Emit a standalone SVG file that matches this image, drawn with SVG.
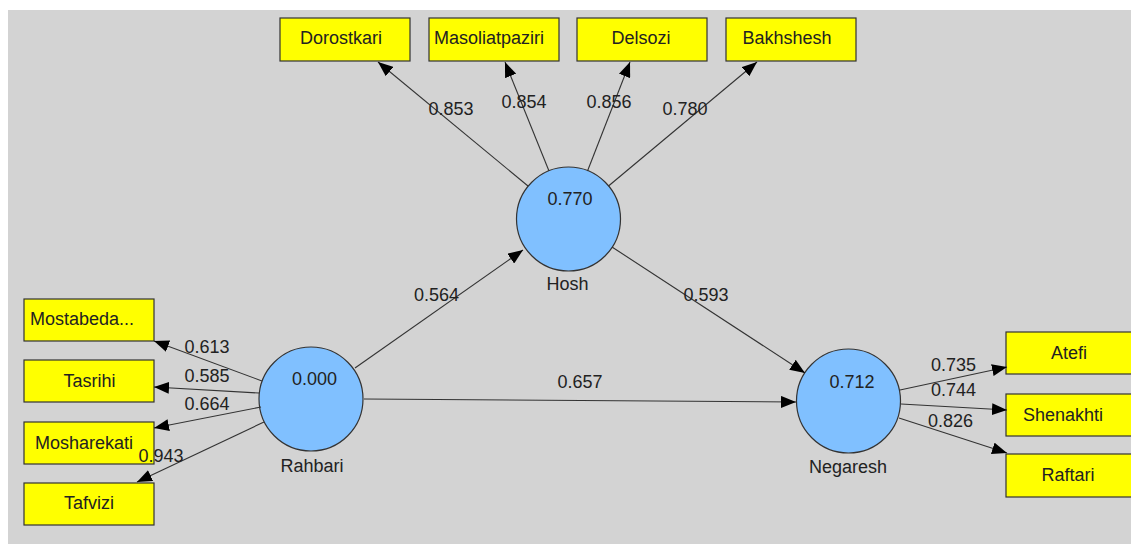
<svg xmlns="http://www.w3.org/2000/svg" width="1131" height="544" viewBox="0 0 1131 544">
<style>
.box{fill:#ffff00;stroke:#333;stroke-width:1.2}
.lv{fill:#80c0ff;stroke:#333;stroke-width:1.2}
text{font-family:"Liberation Sans",Arial,sans-serif;font-size:18px;fill:#222;text-anchor:middle}
.e{stroke:#333;stroke-width:1.1;fill:none;marker-end:url(#ah)}
</style>
<defs>
<marker id="ah" markerWidth="16" markerHeight="12" refX="15" refY="6" orient="auto" markerUnits="userSpaceOnUse">
<path d="M0,0 L15,6 L0,12 Z" fill="#000"/>
</marker>
</defs>
<rect x="0" y="0" width="1131" height="544" fill="#ffffff"/>
<rect x="8" y="10" width="1123" height="534" fill="#d3d3d3"/>
<g id="Hosh">
<circle class="lv" cx="568.5" cy="219" r="52"/>
<text x="570" y="204.5">0.770</text>
<text x="567.5" y="289.5">Hosh</text>
</g>
<g id="Rahbari">
<circle class="lv" cx="311" cy="399" r="52"/>
<text x="314.5" y="384.5">0.000</text>
<text x="312" y="471.5">Rahbari</text>
</g>
<g id="Negaresh">
<circle class="lv" cx="848.5" cy="401" r="52"/>
<text x="852" y="387.5">0.712</text>
<text x="848" y="472.5">Negaresh</text>
</g>
<g id="Dorostkari"><rect class="box" x="280" y="18" width="130" height="43"/><text x="341" y="43.5">Dorostkari</text></g>
<g id="Masoliatpaziri"><rect class="box" x="429" y="18" width="130" height="43"/><text x="489" y="43.5">Masoliatpaziri</text></g>
<g id="Delsozi"><rect class="box" x="577" y="18" width="130" height="43"/><text x="641" y="43.5">Delsozi</text></g>
<g id="Bakhshesh"><rect class="box" x="726" y="18" width="130" height="43"/><text x="787" y="43.5">Bakhshesh</text></g>
<g id="Mostabeda"><rect class="box" x="24" y="299" width="130" height="42"/><text x="82" y="324.5">Mostabeda...</text></g>
<g id="Tasrihi"><rect class="box" x="24" y="360" width="130" height="42"/><text x="89.5" y="386.5">Tasrihi</text></g>
<g id="Mosharekati"><rect class="box" x="24" y="422" width="130" height="42"/><text x="84" y="448.5">Mosharekati</text></g>
<g id="Tafvizi"><rect class="box" x="24" y="483" width="130" height="42"/><text x="89" y="508.5">Tafvizi</text></g>
<g id="Atefi"><rect class="box" x="1006" y="332" width="130" height="42"/><text x="1069" y="359">Atefi</text></g>
<g id="Shenakhti"><rect class="box" x="1006" y="394" width="130" height="42"/><text x="1063" y="421">Shenakhti</text></g>
<g id="Raftari"><rect class="box" x="1006" y="454" width="130" height="43"/><text x="1068" y="481">Raftari</text></g>
<g id="connectors">
<line class="e" x1="528" y1="186" x2="378" y2="62"/>
<line class="e" x1="549" y1="171" x2="505" y2="62"/>
<line class="e" x1="587.5" y1="171" x2="630" y2="62"/>
<line class="e" x1="608.5" y1="186" x2="757" y2="62"/>
<line class="e" x1="355" y1="368" x2="523" y2="250"/>
<line class="e" x1="364" y1="399" x2="796" y2="402"/>
<line class="e" x1="612" y1="247" x2="805" y2="373"/>
<line class="e" x1="262" y1="381" x2="154" y2="341"/>
<line class="e" x1="259" y1="393" x2="154" y2="387"/>
<line class="e" x1="261" y1="407" x2="154" y2="428"/>
<line class="e" x1="264" y1="422" x2="137" y2="482"/>
<line class="e" x1="900" y1="390" x2="1007" y2="367"/>
<line class="e" x1="901" y1="404" x2="1007" y2="410"/>
<line class="e" x1="899" y1="418" x2="1007" y2="453"/>
<text x="451" y="114.5">0.853</text>
<text x="524" y="108">0.854</text>
<text x="609" y="108">0.856</text>
<text x="685" y="114.5">0.780</text>
<text x="436.5" y="300.5">0.564</text>
<text x="706" y="300.5">0.593</text>
<text x="580" y="388">0.657</text>
<text x="207" y="353">0.613</text>
<text x="207" y="381.5">0.585</text>
<text x="207" y="409.5">0.664</text>
<text x="161" y="462">0.943</text>
<text x="953.5" y="370.5">0.735</text>
<text x="953.5" y="395.5">0.744</text>
<text x="950.5" y="426.5">0.826</text>
</g>
</svg>
